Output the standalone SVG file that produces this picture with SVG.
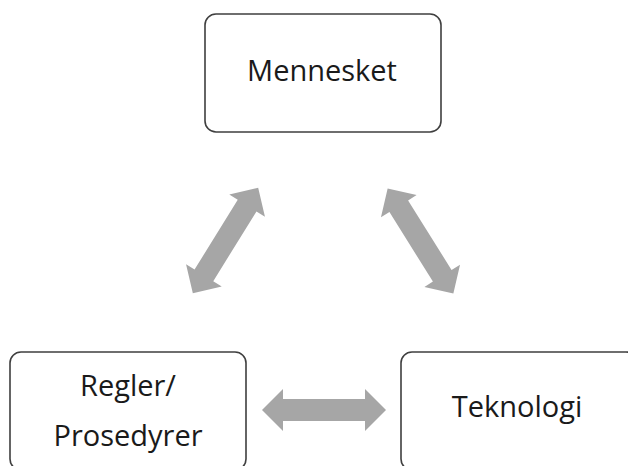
<svg xmlns="http://www.w3.org/2000/svg" width="628" height="466" viewBox="0 0 628 466">
  <defs>
    <style>
      .box { fill: #ffffff; stroke: #3f3f3f; stroke-width: 1.6; }
      .label { font-family: "Open Sans", "Noto Sans", "Liberation Sans", sans-serif; font-size: 29px; fill: #1a1a1a; text-anchor: middle; }
      .arrow { fill: #a6a6a6; }
    </style>
    <!-- double-headed block arrow, 124 long, centred on the origin -->
    <polygon id="dblArrow" points="-62,0 -41,-21 -41,-11 41,-11 41,-21 62,0 41,21 41,11 -41,11 -41,21"/>
  </defs>
  <rect width="628" height="466" fill="#ffffff"/>

  <g id="connectors">
    <use href="#dblArrow" class="arrow" transform="translate(225.5 240.5) rotate(-58.2)"/>
    <use href="#dblArrow" class="arrow" transform="translate(420.5 241) rotate(58)"/>
    <use href="#dblArrow" class="arrow" transform="translate(324 410)"/>
  </g>

  <g id="mennesket">
    <rect class="box" x="205" y="14" width="236" height="118" rx="11"/>
    <text class="label" x="322" y="81">Mennesket</text>
  </g>

  <g id="regler-prosedyrer">
    <rect class="box" x="10" y="352" width="236" height="118" rx="11"/>
    <text class="label" x="128" y="396">Regler/</text>
    <text class="label" x="128" y="446">Prosedyrer</text>
  </g>

  <g id="teknologi">
    <rect class="box" x="401" y="352" width="236" height="118" rx="11"/>
    <text class="label" x="517" y="417">Teknologi</text>
  </g>
</svg>
